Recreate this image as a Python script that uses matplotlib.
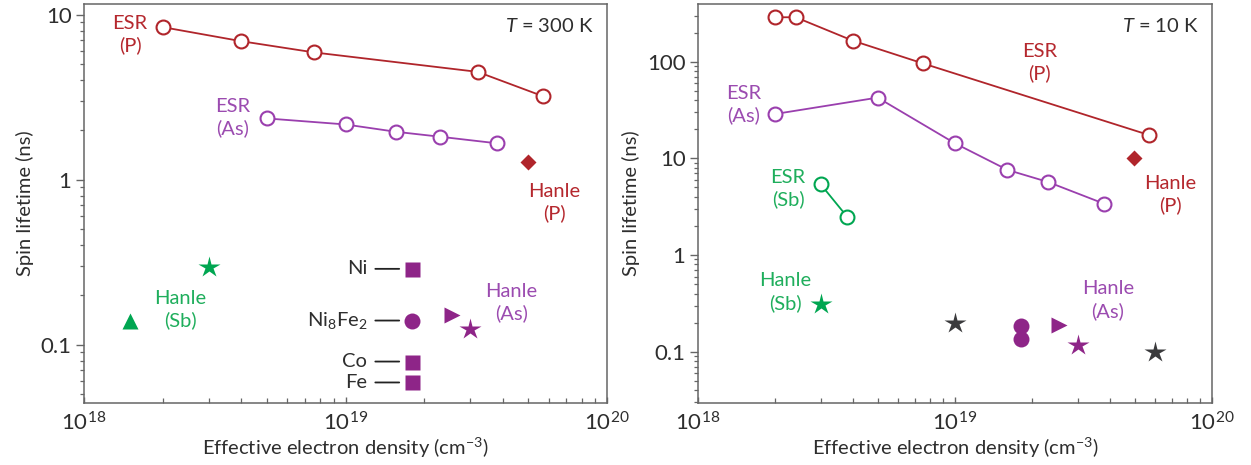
import matplotlib
matplotlib.use("Agg")
import matplotlib.pyplot as plt
from matplotlib.ticker import LogLocator, NullFormatter, FuncFormatter

plt.rcParams['font.family'] = ['Lato', 'DejaVu Sans']
plt.rcParams['mathtext.fontset'] = 'custom'
plt.rcParams['mathtext.rm'] = 'Lato'
plt.rcParams['mathtext.it'] = 'Lato:italic'

# ---------------- data: T = 300 K ----------------
esrP_300_x = [2.0e18, 4.0e18, 7.6e18, 3.2e19, 5.7e19]
esrP_300_y = [8.4, 6.9, 5.9, 4.5, 3.2]
esrAs_300_x = [5.0e18, 1.0e19, 1.56e19, 2.3e19, 3.8e19]
esrAs_300_y = [2.35, 2.16, 1.95, 1.82, 1.66]
hanleP_300_x = [5.0e19]
hanleP_300_y = [1.28]
hanleSb_300_star_x = [3.0e18]
hanleSb_300_star_y = [0.296]
hanleSb_300_tri_x = [1.5e18]
hanleSb_300_tri_y = [0.14]
contact_names = ['Ni', 'Ni$_8$Fe$_2$', 'Co', 'Fe']
contact_x = [1.8e19, 1.8e19, 1.8e19, 1.8e19]
contact_y = [0.288, 0.14, 0.079, 0.059]
contact_marker = ['s', 'o', 's', 's']
hanleAs_300_tri_x = [2.55e19]
hanleAs_300_tri_y = [0.152]
hanleAs_300_star_x = [3.0e19]
hanleAs_300_star_y = [0.124]

# ---------------- data: T = 10 K ----------------
esrP_10_x = [2.0e18, 2.4e18, 4.0e18, 7.5e18, 5.7e19]
esrP_10_y = [288, 288, 165, 96, 17.4]
hanleP_10_x = [4.95e19]
hanleP_10_y = [10.0]
esrAs_10_x = [2.0e18, 5.0e18, 1.0e19, 1.6e19, 2.3e19, 3.8e19]
esrAs_10_y = [28.8, 42.5, 14.3, 7.6, 5.7, 3.4]
esrSb_10_x = [3.0e18, 3.8e18]
esrSb_10_y = [5.4, 2.5]
hanleSb_10_x = [3.0e18]
hanleSb_10_y = [0.31]
black_star_10_x = [1.0e19, 6.0e19]
black_star_10_y = [0.20, 0.10]
hanleAs_10_circ_x = [1.8e19, 1.8e19]
hanleAs_10_circ_y = [0.185, 0.135]
hanleAs_10_tri_x = [2.53e19]
hanleAs_10_tri_y = [0.188]
hanleAs_10_star_x = [3.0e19]
hanleAs_10_star_y = [0.117]

RED = '#b0252b'
RED_TXT = '#b5282e'
PURP_LINE = '#9a3fae'
PURP_TXT = '#9b4bb0'
PURP = '#8e2588'
GREEN = '#00a651'
GREEN_TXT = '#1fae5c'
DARK = '#3a3a3c'
SPINE = '#666666'
TXT = '#2e2e2e'

W, H = 1251, 465
fig = plt.figure(figsize=(W / 100, H / 100), dpi=100)

def px_axes(l, r, t, b):
    return fig.add_axes([l / W, 1 - b / H, (r - l) / W, (b - t) / H])

axL = px_axes(84, 607, 4, 403)
axR = px_axes(698, 1212, 4, 403)

FS = 14.5
open_kw = dict(marker='o', ms=10, mfc='white', mew=1.5, lw=1.3)
STAR = 16
FILL = 11.5

def yfmt(v, pos):
    if v >= 1:
        return '%d' % v
    return '%g' % v

def style(ax, ylim):
    ax.set_xscale('log')
    ax.set_yscale('log')
    ax.set_xlim(1e18, 1e20)
    ax.set_ylim(*ylim)
    for s in ax.spines.values():
        s.set_color(SPINE)
        s.set_linewidth(1.1)
    ax.xaxis.set_minor_locator(LogLocator(base=10, subs=range(2, 10)))
    ax.yaxis.set_minor_locator(LogLocator(base=10, subs=range(2, 10)))
    ax.xaxis.set_minor_formatter(NullFormatter())
    ax.yaxis.set_minor_formatter(NullFormatter())
    ax.yaxis.set_major_formatter(FuncFormatter(yfmt))
    ax.tick_params(axis='x', which='major', direction='in', length=4, width=1, color=SPINE,
                   labelsize=FS + 1.5, pad=6, labelcolor=TXT)
    ax.tick_params(axis='x', which='minor', direction='in', length=3.5, width=0.9, color=SPINE)
    ax.tick_params(axis='y', which='major', direction='out', length=6, width=1, color=SPINE,
                   labelsize=FS + 1.5, labelcolor=TXT, pad=3)
    ax.tick_params(axis='y', which='minor', direction='out', length=3, width=0.9, color=SPINE)
    ax.set_xlabel('Effective electron density (cm$^{-3}$)', fontsize=FS, color=TXT, labelpad=1)
    ax.set_ylabel('Spin lifetime (ns)', fontsize=FS, color=TXT, labelpad=5)

def label(ax, x, y, s, c):
    ax.text(x, y, s, color=c, fontsize=FS, ha='center', va='center', linespacing=1.3)

# ---------- Left panel ----------
style(axL, (0.0443, 11.6))
axL.plot(esrP_300_x, esrP_300_y, color=RED, mec=RED, **open_kw)
axL.plot(esrAs_300_x, esrAs_300_y, color=PURP_LINE, mec=PURP_LINE, **open_kw)
axL.plot(hanleP_300_x, hanleP_300_y, 'D', color=RED, ms=8.5, mec='none')
axL.plot(hanleSb_300_star_x, hanleSb_300_star_y, '*', color=GREEN, ms=STAR, mec='none')
axL.plot(hanleSb_300_tri_x, hanleSb_300_tri_y, '^', color=GREEN, ms=12, mec='none')
for name, x, y, m in zip(contact_names, contact_x, contact_y, contact_marker):
    axL.plot([x], [y], m, color=PURP, ms=10.8 if m == 's' else FILL, mec='none')
    axL.annotate('', xy=(x, y), xycoords='data', xytext=(-26.6, 0), textcoords='offset points',
                 arrowprops=dict(arrowstyle='-', color='#222222', lw=1.3,
                                 shrinkA=0, shrinkB=9.4))
    axL.annotate(name, xy=(x, y), xytext=(-32.5, 0), textcoords='offset points',
                 ha='right', va='center', fontsize=FS, color=TXT)
axL.plot(hanleAs_300_tri_x, hanleAs_300_tri_y, '>', color=PURP, ms=12, mec='none')
axL.plot(hanleAs_300_star_x, hanleAs_300_star_y, '*', color=PURP, ms=STAR, mec='none')

label(axL, 1.5e18, 7.6, 'ESR\n(P)', RED_TXT)
label(axL, 3.7e18, 2.39, 'ESR\n(As)', PURP_TXT)
label(axL, 6.3e19, 0.726, 'Hanle\n(P)', RED_TXT)
label(axL, 2.34e18, 0.163, 'Hanle\n(Sb)', GREEN_TXT)
label(axL, 4.3e19, 0.179, 'Hanle\n(As)', PURP_TXT)
axL.text(0.975, 0.945, '$T$ = 300 K', transform=axL.transAxes, ha='right', va='center',
         fontsize=FS, color=TXT)

# ---------- Right panel ----------
style(axR, (0.0295, 395))
axR.plot(esrP_10_x, esrP_10_y, color=RED, mec=RED, **open_kw)
axR.plot(esrAs_10_x, esrAs_10_y, color=PURP_LINE, mec=PURP_LINE, **open_kw)
axR.plot(esrSb_10_x, esrSb_10_y, color=GREEN, mec=GREEN, **open_kw)
axR.plot(hanleP_10_x, hanleP_10_y, 'D', color=RED, ms=8.5, mec='none')
axR.plot(hanleSb_10_x, hanleSb_10_y, '*', color=GREEN, ms=STAR, mec='none')
axR.plot(black_star_10_x, black_star_10_y, '*', color=DARK, ms=STAR, ls='none', mec='none')
axR.plot(hanleAs_10_circ_x, hanleAs_10_circ_y, 'o', color=PURP, ms=FILL, ls='none', mec='none')
axR.plot(hanleAs_10_tri_x, hanleAs_10_tri_y, '>', color=PURP, ms=12, mec='none')
axR.plot(hanleAs_10_star_x, hanleAs_10_star_y, '*', color=PURP, ms=STAR, mec='none')

label(axR, 2.14e19, 98, 'ESR\n(P)', RED_TXT)
label(axR, 6.9e19, 4.2, 'Hanle\n(P)', RED_TXT)
label(axR, 1.5e18, 35.7, 'ESR\n(As)', PURP_TXT)
label(axR, 2.24e18, 4.9, 'ESR\n(Sb)', GREEN_TXT)
label(axR, 2.18e18, 0.415, 'Hanle\n(Sb)', GREEN_TXT)
label(axR, 3.94e19, 0.343, 'Hanle\n(As)', PURP_TXT)
axR.text(0.975, 0.945, '$T$ = 10 K', transform=axR.transAxes, ha='right', va='center',
         fontsize=FS, color=TXT)

fig.savefig('out.png', dpi=100)
